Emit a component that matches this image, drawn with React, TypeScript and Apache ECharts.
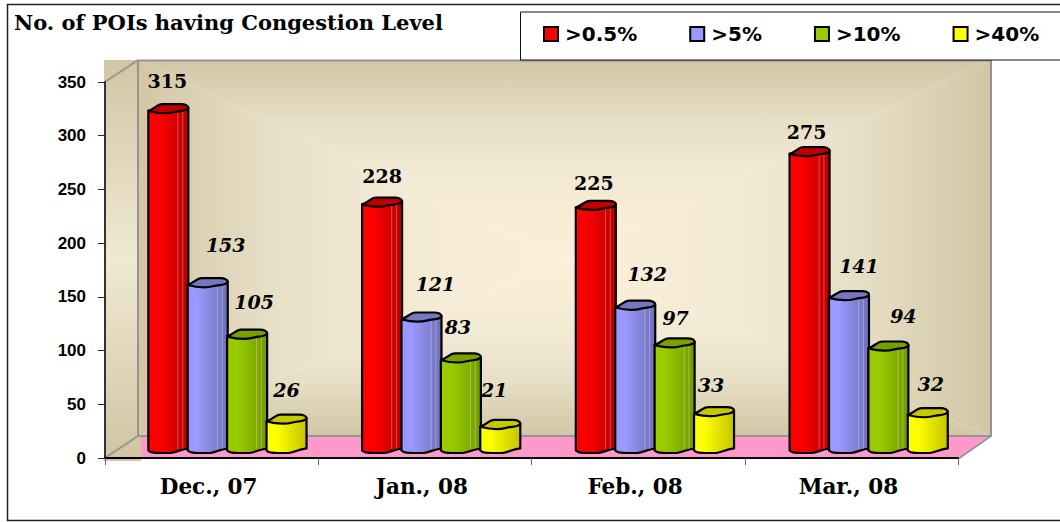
import React, { useEffect, useRef } from "react";
import * as echarts from "echarts";

const categories = ["Dec., 07", "Jan., 08", "Feb., 08", "Mar., 08"];
const seriesNames = [">0.5%", ">5%", ">10%", ">40%"];
const tickValues = [0, 50, 100, 150, 200, 250, 300, 350];
const over05 = [315, 228, 225, 275];
const over5 = [153, 121, 132, 141];
const over10 = [105, 83, 97, 94];
const over40 = [26, 21, 33, 32];

const valuesBySeries = [over05, over5, over10, over40];
// label offsets from the top centre of each bar (px), as placed by hand in the reference
const labelDx = [
  [0, 1, -1, -2],
  [19, 15, 13, 11],
  [8, -2, 2, 16],
  [1, -5, -2, 4],
];
const labelDy = [
  [-23, -21, -17, -15],
  [-33, -28, -26, -25],
  [-27, -26, -20, -25],
  [-24, -29, -22, -24],
];
const palette = [
  { light: "#ff0000", dark: "#b80000", top: "#c00000", line: "#000000" },
  { light: "#9999ff", dark: "#6f6fb8", top: "#7777c0", line: "#000000" },
  { light: "#99cc00", dark: "#739900", top: "#7a9f00", line: "#000000" },
  { light: "#ffff00", dark: "#c4c400", top: "#c8c800", line: "#000000" },
];

const BAR_W = 40;
const STEP = 39.4;
const BASE_LIFT = 6;
const SHIFT = 15.5;
const labelFont = '"DejaVu Serif", serif';

function cylinder(seriesIndex: number) {
  const c = palette[seriesIndex];
  return (params: any, api: any) => {
    const cat = api.value(0);
    const val = api.value(1);
    const zero = api.coord([cat, 0]);
    const top = api.coord([cat, val]);
    const x = zero[0] + SHIFT + cat * 0.5 + (seriesIndex - 2) * STEP;
    const w = BAR_W;
    const yb = zero[1] - BASE_LIFT;
    const yt = top[1] - BASE_LIFT;
    const bodyPath =
      `M${x} ${yt - 3}L${x} ${yb - 2}C${x + 3} ${yb + 1} ${x + 6} ${yb} ${x + 12} ${yb + 0.5}` +
      `L${x + w * 0.55} ${yb + 0.5}C${x + w * 0.72} ${yb} ${x + w * 0.76} ${yb - 3} ${x + w} ${yb - 4}` +
      `L${x + w} ${yt - 6}L${x} ${yt - 3}Z`;
    const topPath =
      `M${x} ${yt - 3}C${x + 6} ${yt - 5} ${x + 9} ${yt - 9.5} ${x + 14} ${yt - 9.5}` +
      `L${x + w * 0.82} ${yt - 9.5}C${x + w * 0.92} ${yt - 9.5} ${x + w} ${yt - 8} ${x + w} ${yt - 6}` +
      `C${x + w * 0.96} ${yt - 2.5} ${x + w * 0.8} ${yt - 3.5} ${x + w * 0.65} ${yt - 2}` +
      `C${x + w * 0.5} ${yt - 0.5} ${x + w * 0.25} ${yt - 0.5} ${x} ${yt - 3}Z`;
    const gradient = new echarts.graphic.LinearGradient(0, 0, 1, 0, [
      { offset: 0, color: c.light },
      { offset: 0.25, color: c.light },
      { offset: 1, color: c.dark },
    ]);
    const stripe = (frac: number) => ({
      type: "line",
      z2: 2,
      shape: { x1: x + w * frac, y1: yt - 2, x2: x + w * frac, y2: yb - 3 },
      style: { stroke: "rgba(255,255,255,0.3)", lineWidth: 1 },
    });
    const children: any[] = [
      {
        type: "path",
        z2: 1,
        shape: { pathData: bodyPath, x: x, y: yt - 6, width: w, height: yb - yt + 7, layout: "cover" },
        style: { fill: gradient, stroke: "#000", lineWidth: 2.2, lineJoin: "round" },
      },
    ];
    if (yb - yt > 40) children.push(stripe(0.74), stripe(0.86));
    children.push({
      type: "path",
      z2: 3,
      shape: { pathData: topPath, x: x, y: yt - 9.5, width: w, height: 9, layout: "cover" },
      style: { fill: c.top, stroke: "#000", lineWidth: 2.2, lineJoin: "round" },
    });
    children.push({
      type: "text",
      z2: 5,
      style: {
        x: x + w / 2 + labelDx[seriesIndex][cat] - 1,
        y: yt - 10 + labelDy[seriesIndex][cat],
        text: String(val),
        fill: "#000",
        font: `${seriesIndex === 0 ? "normal" : "italic"} bold 19px ${labelFont}`,
        align: "center",
        verticalAlign: "middle",
      },
    });
    return { type: "group", children };
  };
}

function wedge(points: number[][], g: number[], stops: [number, string][]) {
  return {
    type: "polygon",
    z: -8,
    shape: { points },
    style: {
      fill: new echarts.graphic.LinearGradient(
        g[0], g[1], g[2], g[3],
        stops.map(([offset, color]) => ({ offset, color })),
      ),
    },
  };
}

export default function App() {
  const ref = useRef<HTMLDivElement>(null);
  useEffect(() => {
    document.body.style.margin = "0";
    const chart = echarts.init(ref.current!, undefined, { renderer: "svg" });
    const L = 138, R = 990, T = 60, B = 436;
    const cx = (L + R) / 2, cy = (T + B) / 2 + 12;
    const wallStops: [number, string][] = [
      [0, "#d2c6a5"],
      [0.3, "#e6dec5"],
      [0.55, "#f1e9d3"],
      [0.8, "#f8edd6"],
      [1, "#fdeed8"],
    ];
    const grey = "#959595";
    chart.setOption({
      animation: false,
      backgroundColor: "#ffffff",
      grid: { left: 105, right: 102, top: 82, bottom: 64, containLabel: false },
      xAxis: {
        type: "category",
        data: categories,
        axisLine: { show: true, lineStyle: { color: "#000", width: 2 } },
        axisTick: { show: true, length: 7, lineStyle: { color: "#666", width: 1 } },
        axisLabel: { color: "#000", margin: 17, padding: [0, 6, 0, 0], fontFamily: "DejaVu Serif", fontWeight: "bold", fontSize: 21.5 },
        z: 3,
      },
      yAxis: {
        type: "value",
        min: 0,
        max: 350,
        interval: 50,
        axisLine: { show: true, lineStyle: { color: "#333", width: 2 } },
        axisTick: { show: true, length: 7, lineStyle: { color: "#222", width: 1 } },
        axisLabel: { color: "#000", margin: 19, fontFamily: "Liberation Sans", fontWeight: "bold", fontSize: 17, formatter: (v: number) => (tickValues.includes(v) ? String(v) : "") },
        splitLine: { show: false },
        z: 3,
      },
      legend: {
        show: true,
        left: 543,
        top: 24,
        icon: "rect",
        itemWidth: 14,
        itemHeight: 14,
        itemGap: 52,
        selectedMode: false,
        padding: 0,
        z: 20,
        textStyle: { color: "#000", fontFamily: "DejaVu Sans", fontWeight: "bold", fontSize: 20, padding: [2, 0, 0, 2] },
        data: seriesNames.map((name, i) => ({
          name,
          itemStyle: { color: palette[i].light, borderColor: "#000", borderWidth: 2 },
        })),
      },
      title: {
        text: "No. of POIs having Congestion Level",
        left: 14,
        top: 12,
        padding: 0,
        textStyle: { color: "#000", fontFamily: "DejaVu Serif", fontWeight: "bold", fontSize: 21 },
      },
      graphic: [
        // outer frame
        { type: "rect", z: -10, shape: { x: 7.5, y: 4.5, width: 1070, height: 516 }, style: { fill: "#fff", stroke: "#222", lineWidth: 1.5 } },
        // side wall
        {
          type: "rect",
          z: -9,
          shape: { x: 104, y: 60, width: 37, height: 401 },
          style: {
            fill: new echarts.graphic.LinearGradient(0, 0, 0, 1, [
              { offset: 0, color: "#d2c6a5" },
              { offset: 0.5, color: "#f0e8d2" },
              { offset: 1, color: "#d0c4a2" },
            ]),
          },
        },
        // back wall: rectangular gradient from four wedges
        wedge([[L, T], [R, T], [cx, cy]], [0, 0, 0, 1], wallStops),
        wedge([[L, B], [R, B], [cx, cy]], [0, 1, 0, 0], wallStops),
        wedge([[L, T], [L, B], [cx, cy]], [0, 0, 1, 0], wallStops),
        wedge([[R, T], [R, B], [cx, cy]], [1, 0, 0, 0], wallStops),
        // floor
        { type: "polygon", z: -7, shape: { points: [[141, 436], [990, 436], [958, 459], [141, 459]] }, style: { fill: "#ff99cc" } },
        // wall edges
        { type: "polyline", z: -6, shape: { points: [[138, 436], [138, 60.5], [991, 60.5], [991, 436], [138, 436]] }, style: { stroke: grey, lineWidth: 2, fill: "none" } },
        { type: "line", z: -6, shape: { x1: 105, y1: 82, x2: 138, y2: 60 }, style: { stroke: grey, lineWidth: 2 } },
        { type: "line", z: -6, shape: { x1: 105, y1: 458, x2: 138, y2: 436 }, style: { stroke: grey, lineWidth: 2 } },
        { type: "line", z: -6, shape: { x1: 958, y1: 459, x2: 991, y2: 436 }, style: { stroke: grey, lineWidth: 2 } },
        // legend box
        { type: "rect", z: 10, shape: { x: 520.5, y: 12, width: 560, height: 48 }, style: { fill: "#fff", stroke: "#111", lineWidth: 1 } },
      ],
      series: valuesBySeries.map((values, i) => ({
        type: "custom",
        name: seriesNames[i],
        coordinateSystem: "cartesian2d",
        renderItem: cylinder(i),
        clip: false,
        z: 5 + i,
        itemStyle: { color: palette[i].light },
        encode: { x: 0, y: 1 },
        data: values.map((v, c) => [c, v]),
      })),
    });
    return () => chart.dispose();
  }, []);
  return <div ref={ref} style={{ width: 1060, height: 522 }} />;
}
